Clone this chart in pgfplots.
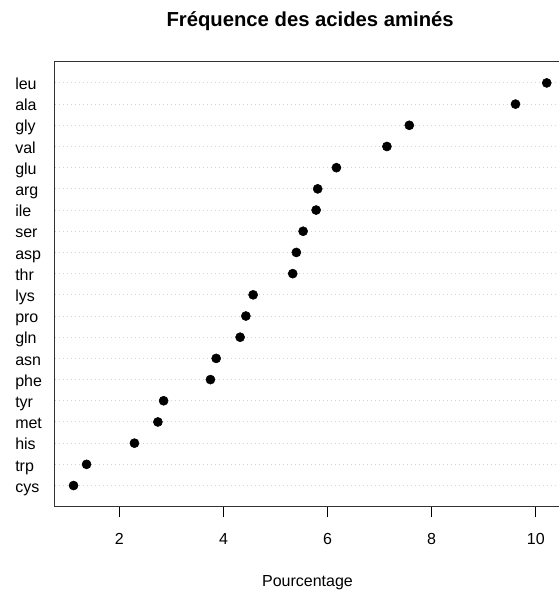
\documentclass[border=0pt,12pt]{standalone}
\usepackage{fontspec}
\setmainfont{Liberation Sans}
\usepackage{pgfplots}
\pgfplotsset{compat=1.18}
\definecolor{lgray}{RGB}{211,211,211}
\begin{document}
\begin{tikzpicture}
\begin{axis}[name=ax, scale only axis, width=383.3pt, height=333.75pt,
  xmin=0.756, xmax=10.574, ymin=0, ymax=21,
  xtick={2,4,6,8,10}, ytick={1,...,20},
  yticklabels={cys,trp,his,met,tyr,phe,asn,gln,pro,lys,thr,asp,ser,ile,arg,glu,val,gly,ala,leu},
  tick pos=left,
  xtick align=outside, major tick length=8pt,
  tick style={black, line width=0.75pt},
  ytick style={draw=none},
  axis line style={black!80, line width=0.75pt},
  ymajorgrids, grid style={lgray, line width=0.75pt, dash pattern=on 0.75pt off 2.25pt},
  /pgf/number format/assume math mode=true,
  ticklabel style={font=\fontsize{12}{14}\selectfont},
  yticklabel style={anchor=base west, inner sep=0pt, xshift=-29.7pt, yshift=-5pt},
  xticklabel style={anchor=north, inner sep=0pt, yshift=-12pt},
]
\addplot[only marks, mark=*, mark size=3.4pt, black] coordinates {
(1.12,1) (1.37,2) (2.29,3) (2.74,4) (2.85,5) (3.75,6) (3.86,7) (4.32,8) (4.43,9) (4.57,10)
(5.33,11) (5.40,12) (5.53,13) (5.78,14) (5.81,15) (6.17,16) (7.14,17) (7.57,18) (9.61,19) (10.21,20)
};
\end{axis}
\node[anchor=base, font=\fontsize{15.2}{18}\selectfont\bfseries] at ([yshift=26.25pt]ax.north) {Fréquence des acides aminés};
\node[anchor=base, font=\fontsize{12}{14}\selectfont] at ([xshift=-2pt,yshift=-59.5pt]ax.south) {Pourcentage};
\pgfresetboundingbox
\path[use as bounding box] ([xshift=-40.95pt,yshift=-66.2pt]ax.south west) rectangle ([xshift=377.55pt,yshift=46.3pt]ax.north west);
\end{tikzpicture}
\end{document}
